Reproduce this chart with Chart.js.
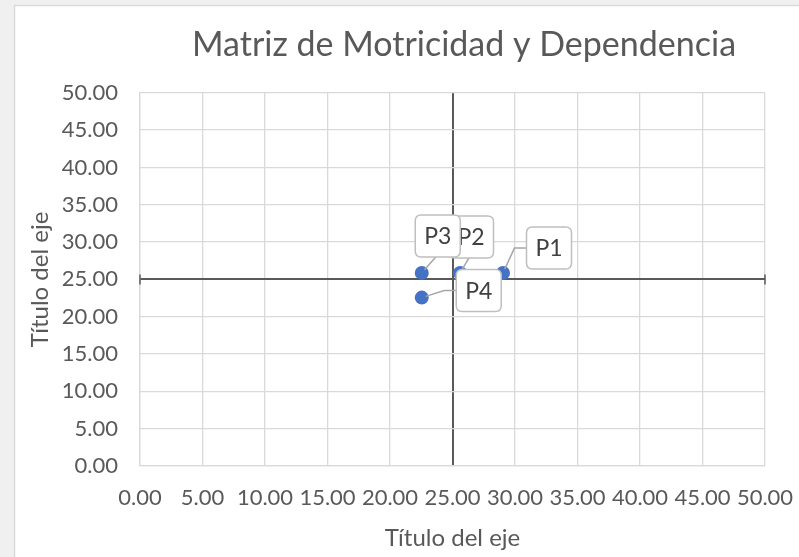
<!DOCTYPE html>
<html>
<head>
<meta charset="utf-8">
<script src="https://cdn.jsdelivr.net/npm/chart.js@4.4.1/dist/chart.umd.min.js"></script>
<style>
  html, body { margin: 0; padding: 0; background: #f0f0f0; }
  #wrap { width: 799px; height: 557px; }
</style>
</head>
<body>
<div id="wrap"><canvas id="c" width="799" height="557"></canvas></div>
<script>
// ---- data ----
const categories = ['P1', 'P2', 'P3', 'P4'];
const xValues = [29.04, 25.60, 22.54, 22.54];
const yValues = [25.87, 25.87, 25.87, 22.56];
const axisMin = 0;
const axisMax = 50;
const axisStep = 5;
const crossValue = 25;
const chartTitle = 'Matriz de Motricidad y Dependencia';
const xAxisTitle = 'Título del eje';
const yAxisTitle = 'Título del eje';

// ---- label placement (style, not data) ----
const labelOffsets = [
  { dx: 46, dy: -25, attach: 'left' },
  { dx: 11, dy: -36, attach: 'bottom' },
  { dx: 16, dy: -37, attach: 'bottom' },
  { dx: 57, dy: -7, attach: 'left' }
];

const FONT = 'Lato, "Open Sans", sans-serif';
const TEXT = '#595959';
const GRID = '#d9d9d9';
const DARK = '#595959';

const frameBg = {
  id: 'frameBg',
  beforeDraw(chart) {
    const ctx = chart.ctx;
    ctx.save();
    ctx.fillStyle = '#f0f0f0';
    ctx.fillRect(0, 0, chart.width, chart.height);
    ctx.fillStyle = '#ffffff';
    ctx.fillRect(14, 5, chart.width - 14, chart.height - 5);
    ctx.strokeStyle = '#d9d9d9';
    ctx.lineWidth = 1.5;
    ctx.beginPath();
    ctx.moveTo(14.5, chart.height);
    ctx.lineTo(14.5, 5.5);
    ctx.lineTo(chart.width, 5.5);
    ctx.stroke();
    ctx.restore();
  }
};

// shift the library's title block so it is centred where the reference has it
const titleShift = {
  id: 'titleShift',
  afterLayout(chart) {
    const t = chart.titleBlock;
    if (t) { t.left = 163; t.right = 765; t.width = t.right - t.left; }
  }
};

// small end ticks on the crossing horizontal axis line
const crossTicks = {
  id: 'crossTicks',
  beforeDatasetsDraw(chart) {
    const ctx = chart.ctx;
    const y = chart.scales.y.getPixelForValue(crossValue);
    const a = chart.chartArea;
    ctx.save();
    ctx.strokeStyle = DARK;
    ctx.lineWidth = 1.5;
    ctx.beginPath();
    [a.left, a.right].forEach(x => { ctx.moveTo(x, y - 5); ctx.lineTo(x, y + 5); });
    ctx.stroke();
    ctx.restore();
  }
};

function roundRect(ctx, x, y, w, h, r) {
  ctx.beginPath();
  ctx.moveTo(x + r, y);
  ctx.lineTo(x + w - r, y);
  ctx.quadraticCurveTo(x + w, y, x + w, y + r);
  ctx.lineTo(x + w, y + h - r);
  ctx.quadraticCurveTo(x + w, y + h, x + w - r, y + h);
  ctx.lineTo(x + r, y + h);
  ctx.quadraticCurveTo(x, y + h, x, y + h - r);
  ctx.lineTo(x, y + r);
  ctx.quadraticCurveTo(x, y, x + r, y);
  ctx.closePath();
}

const callouts = {
  id: 'callouts',
  afterDatasetsDraw(chart) {
    const ctx = chart.ctx;
    const meta = chart.getDatasetMeta(0);
    const W = 45, H = 42, R = 6, pr = 7;
    const boxes = meta.data.map((pt, i) => {
      const o = labelOffsets[i];
      const cx = pt.x + o.dx, cy = pt.y + o.dy;
      return { px: pt.x, py: pt.y, cx, cy, x: cx - W / 2, y: cy - H / 2, o, text: categories[i] };
    });
    ctx.save();
    ctx.strokeStyle = '#a6a6a6';
    ctx.lineWidth = 1.5;
    boxes.forEach(b => {
      let ex, ey;
      ctx.beginPath();
      if (b.o.attach === 'left') {
        ex = b.x - 12; ey = b.cy;
        ctx.moveTo(b.x, b.cy);
        ctx.lineTo(ex, ey);
      } else {
        ex = b.cx - 2; ey = b.y + H;
        ctx.moveTo(ex, ey);
      }
      const ddx = b.px - ex, ddy = b.py - ey;
      const d = Math.hypot(ddx, ddy);
      ctx.lineTo(b.px - ddx / d * pr * 0.6, b.py - ddy / d * pr * 0.6);
      ctx.stroke();
    });
    boxes.forEach(b => {
      roundRect(ctx, b.x, b.y, W, H, R);
      ctx.fillStyle = '#ffffff';
      ctx.fill();
      ctx.strokeStyle = '#bfbfbf';
      ctx.lineWidth = 1.5;
      ctx.stroke();
      ctx.fillStyle = '#404040';
      ctx.font = '23px ' + FONT;
      ctx.textAlign = 'center';
      ctx.textBaseline = 'middle';
      ctx.fillText(b.text, b.cx, b.cy + 1);
    });
    ctx.restore();
  }
};

const gridColor = c => (c.tick && c.tick.value === crossValue) ? DARK : GRID;
const gridWidth = c => (c.tick && c.tick.value === crossValue) ? 2 : 1.3;

new Chart(document.getElementById('c'), {
  type: 'scatter',
  data: {
    datasets: [{
      label: 'Series',
      data: xValues.map((x, i) => ({ x, y: yValues[i] })),
      backgroundColor: '#4472C4',
      borderColor: '#4472C4',
      borderWidth: 0,
      pointRadius: 7,
      pointHoverRadius: 7
    }]
  },
  options: {
    responsive: false,
    animation: false,
    events: [],
    layout: { padding: { left: 14, right: 34, top: 0, bottom: 0 } },
    plugins: {
      legend: { display: false },
      tooltip: { enabled: false },
      title: {
        display: true,
        text: chartTitle,
        color: TEXT,
        font: { family: FONT, size: 34, weight: 'normal', lineHeight: 1.2 },
        padding: { top: 25, bottom: 27 },
        align: 'center'
      }
    },
    scales: {
      x: {
        type: 'linear',
        min: axisMin, max: axisMax,
        ticks: {
          stepSize: axisStep,
          callback: v => Number(v).toFixed(2),
          color: TEXT,
          font: { family: FONT, size: 22 },
          padding: 19,
          maxRotation: 0,
          autoSkip: false
        },
        grid: { color: gridColor, lineWidth: gridWidth, drawTicks: false },
        border: { color: GRID, width: 1.3 },
        title: {
          display: true, text: xAxisTitle, color: TEXT,
          font: { family: FONT, size: 24, lineHeight: 1.2 }, padding: { top: 0, bottom: 4 }
        },
        afterFit: s => { s.height = 91; s.paddingLeft = 0; s.paddingRight = 0; }
      },
      y: {
        type: 'linear',
        min: axisMin, max: axisMax,
        ticks: {
          stepSize: axisStep,
          callback: v => Number(v).toFixed(2),
          color: TEXT,
          font: { family: FONT, size: 22 },
          padding: 22
        },
        grid: { color: gridColor, lineWidth: gridWidth, drawTicks: false },
        border: { color: GRID, width: 1.3 },
        title: {
          display: true, text: yAxisTitle, color: TEXT,
          font: { family: FONT, size: 24, lineHeight: 1.2 }, padding: { top: 12, bottom: 0 }
        },
        afterFit: s => { s.width = 126; s.paddingTop = 0; s.paddingBottom = 0; }
      }
    }
  },
  plugins: [frameBg, titleShift, crossTicks, callouts]
});
</script>
</body>
</html>
